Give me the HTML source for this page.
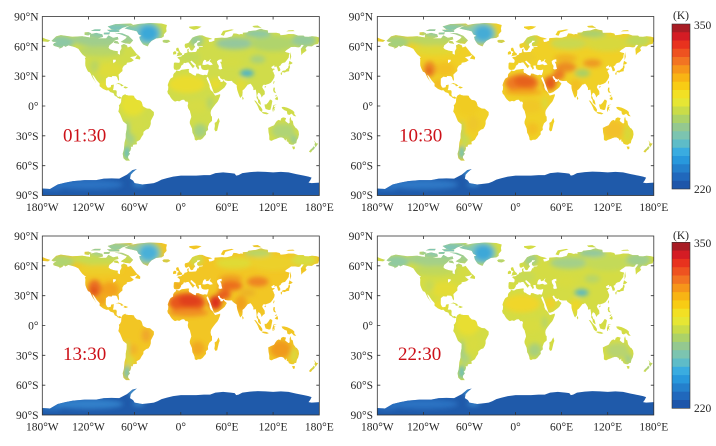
<!DOCTYPE html>
<html><head><meta charset="utf-8"><style>
html,body{margin:0;padding:0;background:#fff;}
svg{display:block;}
text{font-family:"Liberation Serif","DejaVu Serif",serif;}
.tl{font-size:11.5px;fill:#262626;}
.tm{font-size:19px;fill:#cc1018;}
</style></head><body>
<svg width="716" height="446" viewBox="0 0 716 446" xmlns="http://www.w3.org/2000/svg">
<rect width="716" height="446" fill="#fff"/>
<defs>
<filter id="bl" x="-30%" y="-30%" width="160%" height="160%"><feGaussianBlur stdDeviation="3 2.5"/></filter>
<clipPath id="lc">
<path d="M-168 -65.5 L-162 -70 -156 -71.3 -141 -69.6 -128 -70.2 -117 -68.8 -108 -68 -97 -68 -94 -71 -88 -68.5 -82 -69.5 -81 -67 -86 -66 -88 -64 -93 -61 -94 -58.5 -92 -57 -87 -55.5 -82 -55 -82 -52.5 -79 -51.5 -79 -55 -77 -58 -77.5 -61 -74 -62.3 -70 -61 -69 -58.8 -65 -60 -61 -56 -57 -52 -56 -51.5 -60 -50 -66 -49.2 -64 -48 -61 -46 -64 -44.5 -66 -44 -70 -43.5 -70.5 -41.8 -74 -40.5 -76 -38 -75.8 -35.2 -78 -33.8 -81 -31.5 -80.2 -27 -80.4 -25.2 -81.8 -26.5 -82.8 -29 -84.3 -30 -89 -30.2 -90 -29 -94 -29.6 -97.3 -27.5 -97.5 -24 -97.5 -21.5 -96 -19 -94.5 -18.2 -91 -18.8 -90.5 -21 -87 -21.5 -87.5 -18 -88.3 -16 -84 -15.8 -83.2 -14.5 -83.5 -11 -81.5 -9 -79.5 -9.5 -77.5 -8.5 -77.3 -7.8 -78.2 -7.5 -79.5 -7.3 -80.5 -7.8 -82 -8.2 -83.7 -9.5 -85.7 -10 -87.5 -13 -91.5 -14 -94 -16 -96.5 -15.7 -101 -17.2 -105.5 -20 -105.3 -22.5 -109 -25.5 -112.5 -29.5 -114.7 -31.7 -114.5 -30 -112.7 -27 -109.9 -22.9 -110.5 -23.5 -112 -25.5 -114.3 -28 -115.8 -30.3 -117.2 -32.7 -118.5 -34 -120.6 -34.6 -122.5 -37.5 -124 -40.5 -124.2 -43 -124 -46.5 -124.7 -48.4 -123 -49 -125 -50 -128 -52 -130.5 -54.5 -133 -57.5 -137 -59 -140 -59.7 -146 -61 -150 -59.5 -152 -60.7 -154 -59 -157 -58 -162 -55.5 -158 -57.5 -157.5 -58.7 -162 -59.8 -165 -60.5 -166 -62 -164.5 -63.2 -161 -64.5 -166 -64.6 Z"/>
<path d="M-73 -78 L-66 -81 -55 -82.5 -40 -83.5 -25 -83 -18 -81.5 -19 -78 -18.5 -75 -22 -72 -22 -70 -25 -68.5 -32 -68 -38 -65.5 -41 -63 -43 -60 -46 -60.8 -49 -62 -51 -64 -53 -66.5 -54 -69.5 -51 -70.5 -55 -72 -57 -75 -62 -76 -68 -77 Z"/>
<path d="M-62 -66 L-66 -62.5 -72 -63 -78 -64.5 -72 -67.5 -70 -69.5 -78 -72 -86 -73.5 -76 -73 -68 -70.5 Z M-80 -76.5 L-90 -77 -95 -80 -85 -82.3 -65 -83 -62 -82 -70 -80 -76 -78.5 Z M-80 -74.5 L-92 -74.5 -96 -76.5 -85 -76.8 -80 -76 Z M-118 -69 L-108 -68 -101 -69.5 -102 -72 -110 -73.5 -118 -72 Z M-125 -71.5 L-120 -71 -116 -73 -120 -74.3 -125 -74 Z M-117 -75.5 L-105 -75.5 -104 -77 -112 -77 Z M-100 -72 L-93 -72 -92 -74 -100 -73.7 Z M-87 -63.5 L-80 -62.5 -82 -65 -86 -65.5 Z M-59.5 -47.6 L-53 -46.7 -52.6 -49 -56 -51.6 Z M-85 -21.8 L-81 -23.1 -77 -22 -74.2 -20.2 -77.7 -19.9 -78.5 -21.5 -82 -22.3 Z M-74.5 -18.4 L-72.8 -19.9 -68.4 -18.6 -71.5 -17.6 Z M-24 -65.5 L-22 -66.5 -16 -66.5 -13.5 -65 -18 -63.4 -22.5 -63.8 Z"/>
<path d="M-77 -8.6 L-75.5 -10.5 -72 -12 -71.5 -11 -68 -10.6 -64 -10.6 -61 -10.2 -60 -8.3 -57 -6 -53 -5.5 -51 -4 -50 -1.8 -49.5 0 -48 1 -44 2.5 -40 2.8 -37 4.8 -35 6 -35 9 -37 12 -39 15 -39 18 -40 20.5 -42 23 -45 23.7 -48.5 26 -48.7 28.5 -51 31 -53 34 -55 35 -57.5 36 -57 38.5 -62 39 -62.5 41 -65 41 -64.5 42.5 -65.5 45 -67.5 46.5 -66 48 -68.5 50.5 -68.5 52.3 -66 55 -71 55 -74.5 52.5 -75.5 48 -74 44 -73.5 40 -73.2 37 -71.5 32 -71.5 28 -70.3 23 -70.2 18.5 -75 15.5 -76.4 13 -79 8 -81.2 5.5 -80.5 3.5 -80 1 -80.5 -0.8 -79 -1.8 -77.5 -4 -77.3 -7 Z"/>
<path d="M-9 -43 L-9.3 -39 -8.8 -37 -6 -36.2 -2 -36.7 0 -38.8 0.5 -40.5 3.2 -42 4 -43.5 6 -43.1 8 -43.8 10.2 -43.9 12.3 -41.6 15.7 -38 16.6 -38.6 17 -39.5 18.5 -40.2 16 -41.5 13.5 -43.6 12.3 -44.8 13.7 -45.7 15 -45 19.4 -41.8 19.5 -40 21 -38.5 22.5 -36.5 24 -38 22.8 -40.5 26 -40.8 26.3 -40 26.5 -38.5 27.5 -37 30 -36.2 33 -36.1 36 -36.7 35.8 -34.8 35 -33 34.3 -31.2 34.9 -29.5 36.5 -27 39 -22 41 -17.5 43 -13 45 -12.8 49 -14 52.2 -15.8 55 -17.5 57 -18.9 59.8 -22.5 58.5 -23.6 56.4 -24.8 56 -26.2 54 -24.2 51.5 -24.2 51.2 -26.1 50 -26.3 49.5 -27 48 -29.5 50 -30.2 51.5 -27.9 54.5 -26.5 56.4 -27.2 57.3 -25.8 61.5 -25.2 66.5 -25.3 67.5 -23.9 70 -22.5 72.8 -21 72.8 -19 73.5 -16 74.8 -12.8 76.3 -9.5 77.5 -8 78.2 -8.9 79.9 -10.3 80.3 -13.5 80.2 -15.7 82.3 -17 85 -19.5 87 -21.5 88.5 -21.7 90.5 -22.5 92 -21.2 94.3 -18.2 94.3 -16 97.5 -16.5 98.2 -13 98.6 -10 98.5 -8 100.3 -6 100.5 -3.5 101.5 -2.6 103.5 -1.3 104.2 -1.5 103.4 -4.3 102.5 -6.1 101 -6.9 100.2 -9 99.2 -10.3 100 -12.3 100.9 -13.4 103 -12.5 104.3 -10.5 105 -8.6 106.8 -10.4 109.2 -11.8 109 -15 106.8 -17.5 105.8 -19 106.7 -20.7 108 -21.5 110 -21.1 112 -21.8 114.2 -22.3 117 -23.4 119.5 -25.9 121.5 -28.5 122 -30.9 121 -32.5 120.3 -34.3 119.2 -35 120.7 -36.4 122.5 -37 121 -37.7 118.9 -37.5 118 -38.4 117.6 -39.2 119.3 -40 121 -40.8 122 -40.4 121.3 -39 124.2 -39.8 125.5 -37.7 126.5 -35 129 -35.2 129.4 -36.8 128.3 -38.6 127.5 -39.8 129.7 -40.9 130.7 -42.3 132.3 -43.3 135.5 -43.9 138.2 -46.5 140.3 -48.8 140.5 -50.8 141.4 -53.2 137 -54 135.3 -54.8 137.7 -56.4 140.5 -57.8 143.2 -59.3 148.2 -59.4 152.8 -59 155 -59.3 156.8 -61.6 160 -61.5 156 -57.5 156.7 -51 158.5 -52.9 162 -54.8 163.5 -56.1 162.1 -57.8 163.2 -59.2 165 -60.2 170.3 -60 173.7 -61.7 178.5 -62.5 179.2 -64.5 180 -65 180 -68.9 176 -69.8 170.5 -70.1 166 -69.5 161 -69.7 159.5 -70.8 152.5 -70.8 147 -72.3 140 -72.4 136 -71.6 129.7 -71.2 128.5 -72.9 124 -73.7 113.5 -73.5 113 -76 108 -76.7 104.3 -77.7 101 -76.9 98 -76 88 -75.2 86.7 -74 80.5 -73.6 80.8 -72.2 78 -72.4 75.9 -71.9 72.5 -72.8 68.5 -73 66.5 -70 60 -68.6 57 -68.5 53.5 -68.8 44 -68.2 43.5 -66.2 44.2 -66 40 -64.6 37 -64.3 36 -66.7 41 -67.4 38.5 -68.3 33 -69.3 28 -71 24 -71 19 -70 15 -68.6 12.5 -66 10 -63.5 5.5 -62.5 5 -61 5.5 -59 7 -58 10.5 -59.3 11.5 -58 12.5 -56.3 14 -55.5 16 -56.2 16.5 -57.3 18.8 -59.6 17.3 -61 17.4 -62.5 21 -64.3 21.5 -65.7 25.5 -65.6 25 -64.8 21.4 -63.2 21.3 -61 23 -60 29 -60.3 28 -59.5 23.5 -59.2 23.4 -57.6 21.5 -57.4 21 -56 19.8 -54.4 14 -54 11 -54 9.9 -55.5 10.6 -57.7 8.3 -56.8 8.5 -55 8.9 -54 7 -53.3 5 -53 4 -51.4 1.6 -50.9 1.5 -50.1 -1.2 -49.3 -1.9 -49.7 -4.6 -48.6 -2.5 -47.3 -1.2 -46.2 -1.3 -44.5 -2 -43.4 -8 -43.7 Z"/>
<path d="M-180 -65 L-172.5 -64.5 -169.7 -66 -175 -67.3 -180 -68.9 Z M-5.7 -50 L1.5 -51.2 1.7 -52.7 0 -53.5 -1.5 -55 -2 -56 -3.2 -58.6 -5 -58.6 -6.2 -57.5 -5.6 -55.3 -3 -54.8 -3.2 -53.4 -4.6 -53 -4.3 -51.7 Z M-10 -51.6 L-6 -52.2 -6 -54.5 -8 -55.2 -10 -54 Z M52 -71.5 L56 -70.6 58 -74 69 -76.5 66 -77 55 -75.5 Z M11 -78.5 L17 -76.6 22 -77.5 27 -79.8 20 -80.5 11 -79.8 Z M95 -79 L105 -78.5 100 -81 93 -80.5 Z M137 -75 L148 -75.3 146 -76.3 140 -76 Z M130.9 -34 L132.5 -35.5 136 -35.8 137 -37 139.5 -38.3 140 -40.5 141.5 -41.3 142 -39 140.9 -36.8 140.8 -35 139.5 -34.8 137 -34.5 135 -33.5 132.8 -34.1 Z M129.7 -33.3 L131.8 -33.9 131.2 -31.3 130.2 -31.3 Z M140 -41.5 L141.2 -45.5 145.5 -43.3 143.2 -42 Z M142 -46 L143.5 -49.5 142.7 -54.3 142 -51 Z M120.1 -23 L121 -25.3 121.9 -24.8 120.8 -22 Z M108.6 -19.2 L110.3 -20.1 111 -19.6 109.5 -18.2 Z M79.8 -8 L80.2 -9.8 81.8 -7.5 80.6 -6 Z M120 -16 L120.5 -18.5 122.3 -18.5 122 -15.5 124 -13 121 -13.7 Z M122 -7 L125.5 -9.8 126.5 -7 125.5 -5.8 Z M122 -10 L125 -11.5 124 -9.5 Z M109 -1.7 L111 -1.5 113.5 -3.5 116 -6.5 117.8 -6 119 -5 118 -1 117.5 1 116.5 3.8 114.5 4 110.2 3 109 0 Z M95.3 -5.6 L97.5 -5.2 100.5 -2 104 1 106 3.5 105.8 5.8 104.5 5.8 102 4 100.5 1 98.7 -1.7 Z M105.2 6.8 L106.5 6 111 6.4 114.5 7.7 112 8.4 108 7.8 Z M119.5 5.5 L119 3 120.5 -1 124.9 -1.5 121 -0.3 121 1 123.3 0.8 121.5 2 122.5 5 120.5 3 120.4 5.5 Z M131 1 L134 0.9 138 1.6 141 2.6 145 4.3 147.5 6 147.5 8 150 10.4 147 10 144 7.7 141 9.1 138.6 8.3 137.8 5.2 135 4.4 132 2.8 Z M144.6 40.7 L148.3 40.9 148 43.2 146 43.6 Z M172.7 34.4 L174.5 36 176 37.6 178.5 37.7 177 39.5 175 41.6 174.6 39.9 173.8 39.2 174.5 37 Z M172.7 40.5 L174.3 41.7 173 43.5 171.2 44.5 169 46.7 166.5 46 168.4 44 171 42.3 Z M49.3 12 L50.5 15.5 49.5 17.5 47.2 24.9 45 25.5 43.6 23.5 44.3 20 44 17 46.5 15.8 48 13.5 Z"/>
<path d="M113.6 22 L114 26.3 115 30 115 33.6 115.6 34.4 117.9 35.1 121 33.8 124 33 126 32.3 129 31.6 131.5 31.5 134 32.5 135.7 34.8 137.5 33 137.8 35.7 139.5 35.9 140.6 38 143.5 38.8 146.3 39 148 37.8 150 37.5 150.8 34.5 152.5 32.2 153.6 28.5 153 25.2 150.8 22.6 149.5 22.3 146.5 19 145.5 15 143.7 14.3 142.6 10.7 141.5 13 141.5 17 140 17.7 137 16 135.5 15 136.8 12.2 133 11.5 130.5 12.4 129.5 15 127.5 14 125 15 123 17 122.2 18.2 121 19.5 117 20.7 114.5 21.8 Z"/>
<path d="M-5.9 -35.8 L-2 -35.1 1 -36.5 5 -36.8 9.5 -37.3 11 -37 10.2 -35.5 11 -33.4 13 -32.9 15.5 -31.5 19 -30.3 20 -31.5 20 -32.5 23 -32.6 25 -31.8 29 -30.9 31.8 -31.5 32.5 -31.1 34.3 -31.2 34.9 -29.5 33.5 -28 32.5 -29.8 33.8 -27 35.5 -24 37.2 -21 37.5 -18.5 38.9 -16 41.2 -14.5 43.3 -11.9 44.6 -10.4 51.1 -11.9 51.2 -10.5 50.8 -9.5 49 -6 47.8 -4.3 45 -1.7 41.6 1.6 40 3.5 39.2 4.7 38.7 7 39.4 10 40.5 10.5 40.6 15 37 17.5 35.2 21.2 35.5 24 32.6 25.9 32.8 28.5 31 30 28.2 32.7 25.7 34 22.5 34 20 34.8 18.2 33.8 17.9 31.6 16.5 28.7 15.2 27 14.5 22.5 13.5 20.8 11.8 17.8 11.6 16 12.3 14 13.7 11 13.2 9 12.2 6.1 12 5 11 3.9 9.5 2 9 -0.5 9.8 -3 8.5 -4.5 6.5 -4.3 5 -5.5 4.3 -6.3 1.5 -6.2 -2 -4.7 -4.6 -5.2 -7.5 -4.4 -9.2 -5.2 -11.5 -6.8 -13.2 -8.5 -15 -11 -16.7 -12.3 -17.5 -14.7 -16.5 -16.2 -16.2 -19.2 -17 -21 -15.8 -23.8 -14.5 -26 -13.2 -27.7 -10 -29 -9.8 -31.5 -8.5 -33.2 -6.8 -34.1 Z"/>
</clipPath>
<clipPath id="ac">
<path d="M-180 90 L-180 83 -170 83.5 -160 79 -150 77 -140 75.5 -125 74.5 -110 74.5 -100 73 -90 72.8 -80 73 -75 71 -70 69 -66 66.5 -63 64.5 -57 63.3 -59 64.5 -62 66.5 -65 69 -66 73 -62 75 -60 77.5 -50 79 -40 78 -35 77.5 -30 76 -25 74 -18 72.5 -10 71 0 70 10 70 20 70 30 69.5 38 69.5 45 67.5 55 66.8 65 67.5 70 68 72 70 75 69.5 80 67.5 90 66.5 100 66 110 66.2 120 66.8 130 66.3 140 66.8 150 68.5 160 70 166 71 170 72 168 75 166 77 170 77.5 180 77 180 90 Z"/>
</clipPath>
<path id="seas" d="M28 -41.5 L29 -44.7 30.7 -46.5 33.5 -46 32.5 -45.3 33.5 -44.5 36.5 -45.3 38 -47 39 -47.2 37.5 -44.7 40 -43.4 41.6 -41.6 38 -41 35 -42 31 -41.2 Z M47 -45 L49.5 -46.5 53 -47 53.2 -44.5 51 -44.5 52.7 -41.8 53 -40 54 -37.3 51 -36.7 49 -37.5 49.5 -40.2 47.5 -42.8 Z M-88 -46.5 L-84.5 -46.5 -84.5 -45 -87.5 -43 -88 -44.5 Z"/>
<g id="cbar">
<rect x="0" y="0" width="1" height="1.05" fill="#a81c24"/>
<rect x="0" y="1" width="1" height="1.05" fill="#d41c24"/>
<rect x="0" y="2" width="1" height="1.05" fill="#e8321e"/>
<rect x="0" y="3" width="1" height="1.05" fill="#ee5220"/>
<rect x="0" y="4" width="1" height="1.05" fill="#f27422"/>
<rect x="0" y="5" width="1" height="1.05" fill="#f6961a"/>
<rect x="0" y="6" width="1" height="1.05" fill="#f8b414"/>
<rect x="0" y="7" width="1" height="1.05" fill="#f8cc14"/>
<rect x="0" y="8" width="1" height="1.05" fill="#f2e024"/>
<rect x="0" y="9" width="1" height="1.05" fill="#e6e634"/>
<rect x="0" y="10" width="1" height="1.05" fill="#cadc48"/>
<rect x="0" y="11" width="1" height="1.05" fill="#acd268"/>
<rect x="0" y="12" width="1" height="1.05" fill="#94c890"/>
<rect x="0" y="13" width="1" height="1.05" fill="#7cc4b0"/>
<rect x="0" y="14" width="1" height="1.05" fill="#5ebcc8"/>
<rect x="0" y="15" width="1" height="1.05" fill="#3aace0"/>
<rect x="0" y="16" width="1" height="1.05" fill="#2898dc"/>
<rect x="0" y="17" width="1" height="1.05" fill="#2480cc"/>
<rect x="0" y="18" width="1" height="1.05" fill="#2068bc"/>
<rect x="0" y="19" width="1" height="1" fill="#1e56aa"/>
</g>
</defs>

<!-- ============ PANEL 01:30 ============ -->
<g transform="translate(180.8,106) scale(0.76944,0.99444)">
<g clip-path="url(#lc)">
<rect x="-180" y="-90" width="360" height="180" fill="#d0dc4a"/>
<g filter="url(#bl)">
<ellipse cx="-100" cy="-67" rx="42" ry="8" fill="#a0ce8c"/>
<ellipse cx="-155" cy="-64" rx="16" ry="7" fill="#8cc8a4"/>
<ellipse cx="-90" cy="-77" rx="32" ry="7" fill="#7cc4b8"/>
<ellipse cx="-45" cy="-73" rx="20" ry="12" fill="#7cc4bc"/>
<ellipse cx="-42" cy="-73" rx="12" ry="8" fill="#3aa8d8"/>
<ellipse cx="-19" cy="-65" rx="5" ry="2" fill="#8cc8a4"/>
<ellipse cx="-105" cy="-55" rx="30" ry="5" fill="#b8d668"/>
<ellipse cx="-92" cy="-36" rx="18" ry="8" fill="#dedc3a"/>
<ellipse cx="-112" cy="-40" rx="6" ry="6" fill="#bcd660"/>
<ellipse cx="-98" cy="-20" rx="10" ry="6" fill="#e4de34"/>
<ellipse cx="-62" cy="-2" rx="16" ry="12" fill="#e6e032"/>
<ellipse cx="-55" cy="18" rx="8" ry="8" fill="#d2dc48"/>
<ellipse cx="-65" cy="34" rx="6" ry="6" fill="#a8d280"/>
<ellipse cx="-70" cy="47" rx="5" ry="7" fill="#6ec0b8"/>
<ellipse cx="-70" cy="25" rx="3" ry="10" fill="#90cc98"/>
<ellipse cx="12" cy="-49" rx="14" ry="6" fill="#c4da56"/>
<ellipse cx="20" cy="-66" rx="9" ry="6" fill="#98cc94"/>
<ellipse cx="70" cy="-63" rx="25" ry="6" fill="#94c89c"/>
<ellipse cx="120" cy="-63" rx="30" ry="8" fill="#b0d46c"/>
<ellipse cx="160" cy="-66" rx="16" ry="7" fill="#96ca98"/>
<ellipse cx="100" cy="-73" rx="18" ry="4" fill="#8cc8a4"/>
<ellipse cx="66" cy="-44" rx="14" ry="5" fill="#d4dc44"/>
<ellipse cx="86" cy="-33" rx="9" ry="3.5" fill="#48b2cc"/>
<ellipse cx="100" cy="-47" rx="10" ry="4" fill="#a8d27c"/>
<ellipse cx="8" cy="-22" rx="24" ry="9" fill="#eadc2e"/>
<ellipse cx="45" cy="-22" rx="8" ry="6" fill="#e6dc32"/>
<ellipse cx="20" cy="0" rx="14" ry="7" fill="#d6dc44"/>
<ellipse cx="38" cy="-3" rx="4" ry="6" fill="#b4d468"/>
<ellipse cx="25" cy="25" rx="9" ry="7" fill="#a4d080"/>
<ellipse cx="78" cy="-20" rx="8" ry="7" fill="#e0dc38"/>
<ellipse cx="133" cy="25" rx="15" ry="8" fill="#b0d474"/>
<ellipse cx="132" cy="15" rx="9" ry="3" fill="#d0dc48"/>
<ellipse cx="147" cy="34" rx="5" ry="5" fill="#98cc90"/>
<ellipse cx="172" cy="41" rx="5" ry="5" fill="#98cc90"/>
</g></g>
<use href="#seas" fill="#fff"/>
<g clip-path="url(#ac)">
<rect x="-180" y="60" width="360" height="30" fill="#1f5aaa"/>
<g filter="url(#bl)">
<ellipse cx="-120" cy="79" rx="45" ry="5" fill="#2c72c2"/>
<ellipse cx="-168" cy="83" rx="14" ry="2" fill="#2a70c0"/>
<ellipse cx="-62" cy="68" rx="4" ry="4" fill="#4aa0d8"/>
<ellipse cx="-55" cy="79" rx="8" ry="2" fill="#3a8cd0"/>
</g></g>
</g>

<!-- ============ PANEL 10:30 ============ -->
<g transform="translate(515.55,106) scale(0.76806,0.99444)">
<g clip-path="url(#lc)">
<rect x="-180" y="-90" width="360" height="180" fill="#f0d026"/>
<g filter="url(#bl)">
<ellipse cx="-100" cy="-67" rx="42" ry="7" fill="#bcd660"/>
<ellipse cx="-155" cy="-64" rx="16" ry="7" fill="#a4d07c"/>
<ellipse cx="-90" cy="-77" rx="32" ry="7" fill="#88c8a8"/>
<ellipse cx="-45" cy="-73" rx="20" ry="12" fill="#88c8b0"/>
<ellipse cx="-42" cy="-73" rx="12" ry="8" fill="#44acd6"/>
<ellipse cx="-19" cy="-65" rx="5" ry="2" fill="#a4d07c"/>
<ellipse cx="-105" cy="-56" rx="30" ry="5" fill="#e0d836"/>
<ellipse cx="-92" cy="-37" rx="14" ry="7" fill="#f2c020"/>
<ellipse cx="-112" cy="-37" rx="8" ry="8" fill="#ec8a22"/>
<ellipse cx="-113" cy="-35" rx="4" ry="4" fill="#e2661e"/>
<ellipse cx="-100" cy="-22" rx="8" ry="5" fill="#f2bc22"/>
<ellipse cx="-62" cy="-2" rx="16" ry="12" fill="#f0cc24"/>
<ellipse cx="-55" cy="18" rx="8" ry="8" fill="#eec82a"/>
<ellipse cx="-65" cy="35" rx="6" ry="6" fill="#c8da50"/>
<ellipse cx="-70" cy="47" rx="5" ry="7" fill="#78c4b4"/>
<ellipse cx="-70" cy="25" rx="3" ry="10" fill="#b8d668"/>
<ellipse cx="12" cy="-49" rx="14" ry="6" fill="#eccc2a"/>
<ellipse cx="20" cy="-66" rx="9" ry="6" fill="#c0d858"/>
<ellipse cx="70" cy="-63" rx="25" ry="6" fill="#cad850"/>
<ellipse cx="120" cy="-63" rx="30" ry="8" fill="#d8d83c"/>
<ellipse cx="160" cy="-66" rx="16" ry="7" fill="#c0d858"/>
<ellipse cx="100" cy="-73" rx="18" ry="4" fill="#a8d070"/>
<ellipse cx="65" cy="-48" rx="15" ry="4" fill="#f0b420"/>
<ellipse cx="65" cy="-39" rx="14" ry="5" fill="#ec8c22"/>
<ellipse cx="100" cy="-43" rx="12" ry="4" fill="#ee9822"/>
<ellipse cx="87" cy="-33" rx="10" ry="4" fill="#a8d068"/>
<ellipse cx="8" cy="-23" rx="22" ry="9" fill="#ee7a20"/>
<ellipse cx="12" cy="-25" rx="14" ry="6" fill="#e6621e"/>
<ellipse cx="45" cy="-23" rx="8" ry="7" fill="#e45c1e"/>
<ellipse cx="56" cy="-31" rx="8" ry="5" fill="#ec7a22"/>
<ellipse cx="10" cy="-14" rx="25" ry="3" fill="#f2a81e"/>
<ellipse cx="20" cy="0" rx="14" ry="7" fill="#f0c826"/>
<ellipse cx="38" cy="-3" rx="4" ry="6" fill="#dcd83a"/>
<ellipse cx="22" cy="23" rx="8" ry="6" fill="#f2c020"/>
<ellipse cx="78" cy="-20" rx="8" ry="7" fill="#f2c020"/>
<ellipse cx="128" cy="24" rx="14" ry="9" fill="#f2c02a"/>
<ellipse cx="146" cy="28" rx="6" ry="9" fill="#d8d838"/>
<ellipse cx="172" cy="41" rx="5" ry="5" fill="#b0d46c"/>
</g></g>
<use href="#seas" fill="#fff"/>
<g clip-path="url(#ac)">
<rect x="-180" y="60" width="360" height="30" fill="#1f5aaa"/>
<g filter="url(#bl)">
<ellipse cx="-120" cy="79" rx="45" ry="5" fill="#2e78c6"/>
<ellipse cx="-168" cy="83" rx="14" ry="2" fill="#2c74c4"/>
<ellipse cx="-62" cy="68" rx="4" ry="4" fill="#4aa0d8"/>
<ellipse cx="-55" cy="79" rx="8" ry="2" fill="#3a8cd0"/>
</g></g>
</g>

<!-- ============ PANEL 13:30 ============ -->
<g transform="translate(180.8,325.5) scale(0.76944,0.99444)">
<g clip-path="url(#lc)">
<rect x="-180" y="-90" width="360" height="180" fill="#f2c624"/>
<g filter="url(#bl)">
<ellipse cx="-100" cy="-67" rx="42" ry="7" fill="#c8da50"/>
<ellipse cx="-155" cy="-64" rx="16" ry="7" fill="#b0d470"/>
<ellipse cx="-90" cy="-77" rx="32" ry="7" fill="#98cc98"/>
<ellipse cx="-45" cy="-73" rx="20" ry="12" fill="#90caa8"/>
<ellipse cx="-42" cy="-73" rx="12" ry="8" fill="#48b0d8"/>
<ellipse cx="-19" cy="-65" rx="5" ry="2" fill="#b0d470"/>
<ellipse cx="-105" cy="-56" rx="30" ry="5" fill="#eccf2a"/>
<ellipse cx="-92" cy="-36" rx="12" ry="8" fill="#f2a21e"/>
<ellipse cx="-112" cy="-37" rx="9" ry="9" fill="#ea6e20"/>
<ellipse cx="-113" cy="-35" rx="4" ry="4" fill="#e0501c"/>
<ellipse cx="-103" cy="-25" rx="6" ry="5" fill="#f0a01e"/>
<ellipse cx="-45" cy="10" rx="6" ry="7" fill="#f0a82a"/>
<ellipse cx="-62" cy="24" rx="6" ry="5" fill="#f0b42a"/>
<ellipse cx="-66" cy="36" rx="6" ry="5" fill="#dcd83c"/>
<ellipse cx="-70" cy="47" rx="5" ry="7" fill="#80c4b0"/>
<ellipse cx="-70" cy="25" rx="3" ry="10" fill="#c8da54"/>
<ellipse cx="-4" cy="-40" rx="5" ry="3" fill="#f0a01e"/>
<ellipse cx="20" cy="-66" rx="9" ry="6" fill="#d0da48"/>
<ellipse cx="70" cy="-63" rx="25" ry="6" fill="#e0da36"/>
<ellipse cx="120" cy="-63" rx="30" ry="8" fill="#ecd02a"/>
<ellipse cx="160" cy="-66" rx="16" ry="7" fill="#d8dc40"/>
<ellipse cx="100" cy="-73" rx="18" ry="4" fill="#b8d668"/>
<ellipse cx="65" cy="-47" rx="15" ry="4" fill="#f0a020"/>
<ellipse cx="65" cy="-40" rx="15" ry="5" fill="#ec701e"/>
<ellipse cx="100" cy="-44" rx="14" ry="5" fill="#ee8420"/>
<ellipse cx="87" cy="-33" rx="10" ry="4" fill="#ecb428"/>
<ellipse cx="8" cy="-23" rx="24" ry="10" fill="#e8581e"/>
<ellipse cx="12" cy="-25" rx="15" ry="6" fill="#e0401c"/>
<ellipse cx="45" cy="-23" rx="8" ry="7" fill="#dc301c"/>
<ellipse cx="56" cy="-31" rx="9" ry="5" fill="#e8601e"/>
<ellipse cx="10" cy="-13" rx="26" ry="4" fill="#f09020"/>
<ellipse cx="22" cy="23" rx="9" ry="7" fill="#f0a820"/>
<ellipse cx="78" cy="-22" rx="8" ry="8" fill="#f0a01e"/>
<ellipse cx="130" cy="24" rx="14" ry="9" fill="#f09a1e"/>
<ellipse cx="147" cy="30" rx="5" ry="8" fill="#dcd83c"/>
<ellipse cx="172" cy="41" rx="5" ry="5" fill="#c8da50"/>
</g></g>
<use href="#seas" fill="#fff"/>
<g clip-path="url(#ac)">
<rect x="-180" y="60" width="360" height="30" fill="#1f5aaa"/>
<g filter="url(#bl)">
<ellipse cx="-120" cy="79" rx="45" ry="5" fill="#3080ca"/>
<ellipse cx="-168" cy="83" rx="14" ry="2" fill="#2c78c6"/>
<ellipse cx="-62" cy="68" rx="4" ry="4" fill="#58b0dc"/>
<ellipse cx="-55" cy="79" rx="8" ry="2" fill="#3a8cd0"/>
</g></g>
</g>

<!-- ============ PANEL 22:30 ============ -->
<g transform="translate(515.55,325.5) scale(0.76806,0.99444)">
<g clip-path="url(#lc)">
<rect x="-180" y="-90" width="360" height="180" fill="#d4dc44"/>
<g filter="url(#bl)">
<ellipse cx="-100" cy="-67" rx="42" ry="8" fill="#a4d088"/>
<ellipse cx="-155" cy="-64" rx="16" ry="7" fill="#90caa0"/>
<ellipse cx="-90" cy="-77" rx="32" ry="7" fill="#80c4b4"/>
<ellipse cx="-45" cy="-73" rx="20" ry="12" fill="#80c6b8"/>
<ellipse cx="-42" cy="-73" rx="12" ry="8" fill="#3ca8d8"/>
<ellipse cx="-19" cy="-65" rx="5" ry="2" fill="#90caa0"/>
<ellipse cx="-105" cy="-55" rx="30" ry="5" fill="#c0d85c"/>
<ellipse cx="-92" cy="-36" rx="18" ry="8" fill="#e4dc34"/>
<ellipse cx="-112" cy="-40" rx="6" ry="6" fill="#c8da54"/>
<ellipse cx="-98" cy="-20" rx="10" ry="6" fill="#e8dc30"/>
<ellipse cx="-62" cy="-2" rx="16" ry="12" fill="#e8de30"/>
<ellipse cx="-55" cy="18" rx="8" ry="8" fill="#d8dc40"/>
<ellipse cx="-65" cy="34" rx="6" ry="6" fill="#b0d478"/>
<ellipse cx="-70" cy="47" rx="5" ry="7" fill="#70c0b8"/>
<ellipse cx="-70" cy="25" rx="3" ry="10" fill="#98cc94"/>
<ellipse cx="12" cy="-49" rx="14" ry="6" fill="#c8da54"/>
<ellipse cx="20" cy="-66" rx="9" ry="6" fill="#a0ce8c"/>
<ellipse cx="70" cy="-63" rx="25" ry="6" fill="#a4d088"/>
<ellipse cx="120" cy="-63" rx="30" ry="8" fill="#c4da58"/>
<ellipse cx="160" cy="-66" rx="16" ry="7" fill="#a0ce8c"/>
<ellipse cx="100" cy="-73" rx="18" ry="4" fill="#90c8a0"/>
<ellipse cx="66" cy="-44" rx="14" ry="5" fill="#d8dc40"/>
<ellipse cx="86" cy="-33" rx="9" ry="3.5" fill="#58b8c4"/>
<ellipse cx="100" cy="-47" rx="10" ry="4" fill="#b8d668"/>
<ellipse cx="8" cy="-22" rx="24" ry="9" fill="#f0d62a"/>
<ellipse cx="45" cy="-22" rx="8" ry="6" fill="#eed22c"/>
<ellipse cx="20" cy="0" rx="14" ry="7" fill="#d8dc40"/>
<ellipse cx="38" cy="-3" rx="4" ry="6" fill="#b8d668"/>
<ellipse cx="25" cy="25" rx="9" ry="7" fill="#a8d07c"/>
<ellipse cx="78" cy="-20" rx="8" ry="7" fill="#ecd82c"/>
<ellipse cx="133" cy="25" rx="15" ry="8" fill="#b8d470"/>
<ellipse cx="132" cy="15" rx="9" ry="3" fill="#d4dc44"/>
<ellipse cx="147" cy="34" rx="5" ry="5" fill="#a0ce8c"/>
<ellipse cx="172" cy="41" rx="5" ry="5" fill="#a0ce8c"/>
</g></g>
<use href="#seas" fill="#fff"/>
<g clip-path="url(#ac)">
<rect x="-180" y="60" width="360" height="30" fill="#1f5aaa"/>
<g filter="url(#bl)">
<ellipse cx="-120" cy="79" rx="45" ry="5" fill="#2c72c2"/>
<ellipse cx="-168" cy="83" rx="14" ry="2" fill="#2a70c0"/>
<ellipse cx="-62" cy="68" rx="4" ry="4" fill="#4aa0d8"/>
<ellipse cx="-55" cy="79" rx="8" ry="2" fill="#3a8cd0"/>
</g></g>
</g>

<!-- ============ AXES BOXES & TICKS ============ -->
<g fill="none" stroke="#333" stroke-width="0.8">
<rect x="42.3" y="16.5" width="277" height="179"/>
<rect x="377.3" y="16.5" width="276.5" height="179"/>
<rect x="42.3" y="236" width="277" height="179"/>
<rect x="377.3" y="236" width="276.5" height="179"/>
<path d="M88.5 195.5v-3M134.6 195.5v-3M180.8 195.5v-3M227 195.5v-3M273.1 195.5v-3M88.5 16.5v3M134.6 16.5v3M180.8 16.5v3M227 16.5v3M273.1 16.5v3
M42.3 46.3h3M42.3 76.2h3M42.3 106h3M42.3 135.8h3M42.3 165.7h3M319.3 46.3h-3M319.3 76.2h-3M319.3 106h-3M319.3 135.8h-3M319.3 165.7h-3"/>
<path d="M423.4 195.5v-3M469.5 195.5v-3M515.6 195.5v-3M561.6 195.5v-3M607.7 195.5v-3M423.4 16.5v3M469.5 16.5v3M515.6 16.5v3M561.6 16.5v3M607.7 16.5v3
M377.3 46.3h3M377.3 76.2h3M377.3 106h3M377.3 135.8h3M377.3 165.7h3M653.8 46.3h-3M653.8 76.2h-3M653.8 106h-3M653.8 135.8h-3M653.8 165.7h-3"/>
<path d="M88.5 415v-3M134.6 415v-3M180.8 415v-3M227 415v-3M273.1 415v-3M88.5 236v3M134.6 236v3M180.8 236v3M227 236v3M273.1 236v3
M42.3 265.8h3M42.3 295.7h3M42.3 325.5h3M42.3 355.3h3M42.3 385.2h3M319.3 265.8h-3M319.3 295.7h-3M319.3 325.5h-3M319.3 355.3h-3M319.3 385.2h-3"/>
<path d="M423.4 415v-3M469.5 415v-3M515.6 415v-3M561.6 415v-3M607.7 415v-3M423.4 236v3M469.5 236v3M515.6 236v3M561.6 236v3M607.7 236v3
M377.3 265.8h3M377.3 295.7h3M377.3 325.5h3M377.3 355.3h3M377.3 385.2h3M653.8 265.8h-3M653.8 295.7h-3M653.8 325.5h-3M653.8 355.3h-3M653.8 385.2h-3"/>
</g>

<!-- ============ TICK LABELS ============ -->
<g class="tl" text-anchor="end">
<text x="38.5" y="20.5">90°N</text><text x="38.5" y="50.3">60°N</text><text x="38.5" y="80.2">30°N</text><text x="38.5" y="110">0°</text><text x="38.5" y="139.8">30°S</text><text x="38.5" y="169.7">60°S</text><text x="38.5" y="199">90°S</text>
<text x="373" y="20.5">90°N</text><text x="373" y="50.3">60°N</text><text x="373" y="80.2">30°N</text><text x="373" y="110">0°</text><text x="373" y="139.8">30°S</text><text x="373" y="169.7">60°S</text><text x="373" y="199">90°S</text>
<text x="38.5" y="240">90°N</text><text x="38.5" y="269.8">60°N</text><text x="38.5" y="299.7">30°N</text><text x="38.5" y="329.5">0°</text><text x="38.5" y="359.3">30°S</text><text x="38.5" y="389.2">60°S</text><text x="38.5" y="419">90°S</text>
<text x="373" y="240">90°N</text><text x="373" y="269.8">60°N</text><text x="373" y="299.7">30°N</text><text x="373" y="329.5">0°</text><text x="373" y="359.3">30°S</text><text x="373" y="389.2">60°S</text><text x="373" y="419">90°S</text>
</g>
<g class="tl" text-anchor="middle">
<text x="42.3" y="211">180°W</text><text x="88.5" y="211">120°W</text><text x="134.6" y="211">60°W</text><text x="180.8" y="211">0°</text><text x="227" y="211">60°E</text><text x="273.1" y="211">120°E</text><text x="319.3" y="211">180°E</text>
<text x="377.3" y="211">180°W</text><text x="423.4" y="211">120°W</text><text x="469.5" y="211">60°W</text><text x="515.6" y="211">0°</text><text x="561.6" y="211">60°E</text><text x="607.7" y="211">120°E</text><text x="653.8" y="211">180°E</text>
<text x="42.3" y="430.5">180°W</text><text x="88.5" y="430.5">120°W</text><text x="134.6" y="430.5">60°W</text><text x="180.8" y="430.5">0°</text><text x="227" y="430.5">60°E</text><text x="273.1" y="430.5">120°E</text><text x="319.3" y="430.5">180°E</text>
<text x="377.3" y="430.5">180°W</text><text x="423.4" y="430.5">120°W</text><text x="469.5" y="430.5">60°W</text><text x="515.6" y="430.5">0°</text><text x="561.6" y="430.5">60°E</text><text x="607.7" y="430.5">120°E</text><text x="653.8" y="430.5">180°E</text>
</g>

<!-- ============ TIME LABELS ============ -->
<text class="tm" x="63" y="141.5">01:30</text>
<text class="tm" x="399" y="141.5">10:30</text>
<text class="tm" x="63" y="360">13:30</text>
<text class="tm" x="398" y="360">22:30</text>

<!-- ============ COLORBARS ============ -->
<use href="#cbar" transform="translate(672,24) scale(18,8.25)"/>
<rect x="672" y="24" width="18" height="165" fill="none" stroke="#333" stroke-width="0.6"/>
<use href="#cbar" transform="translate(672,242.3) scale(18,8.3)"/>
<rect x="672" y="242.3" width="18" height="166" fill="none" stroke="#333" stroke-width="0.6"/>
<g class="tl">
<text x="681" y="19" text-anchor="middle">(K)</text>
<text x="694" y="29">350</text>
<text x="694" y="193">220</text>
<text x="681" y="239" text-anchor="middle">(K)</text>
<text x="694" y="247">350</text>
<text x="694" y="412">220</text>
</g>
</svg>
</body></html>
